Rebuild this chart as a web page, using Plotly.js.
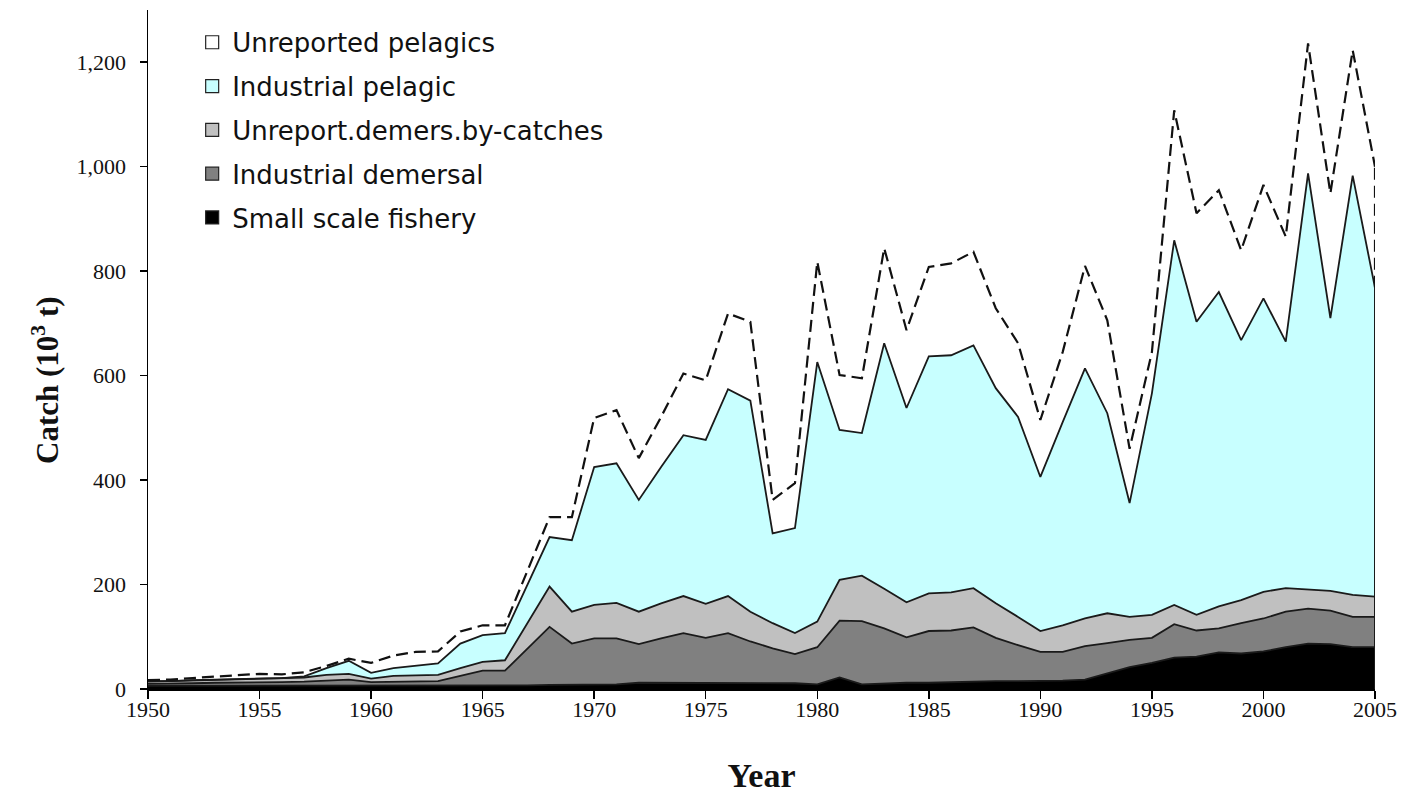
<!DOCTYPE html>
<html>
<head>
<meta charset="utf-8">
<script src="https://cdn.plot.ly/plotly-3.0.1.min.js"></script>
<style>html,body{margin:0;padding:0;background:#fff;}#chart{width:1406px;height:794px;}</style>
</head>
<body>
<div id="chart"></div>
<script>
var years = [1950,1951,1952,1953,1954,1955,1956,1957,1958,1959,1960,1961,1962,1963,1964,1965,1966,1967,1968,1969,
  1970,1971,1972,1973,1974,1975,1976,1977,1978,1979,1980,1981,1982,1983,1984,1985,1986,1987,1988,1989,
  1990,1991,1992,1993,1994,1995,1996,1997,1998,1999,2000,2001,2002,2003,2004,2005];

var smallScale = [6,6,6,6,7,7,7,7,7,7,7,7,7,7,7,7,7,7,8,8,
  8,9,12,12,12,12,12,12,12,11,9,22,9,11,12,12,13,15,15,15,
  15,16,18,30,42,50,60,62,70,68,72,80,87,86,80,80];

var industrialDemersal = [4,4,5,6,5,6,6,7,9,11,6,7,8,8,18,28,28,70,111,79,
  89,88,74,85,95,86,95,79,66,56,71,109,121,105,87,99,99,103,83,69,
  56,55,64,58,52,48,64,50,46,58,63,68,67,64,58,58];

var unreportDemersal = [4,5,5,5,6,7,7,8,11,11,7,11,11,12,15,17,20,49,77,61,
  64,68,62,67,71,65,71,57,48,40,49,78,87,76,67,72,73,75,66,54,
  40,51,53,57,44,44,37,30,42,44,51,45,37,38,42,39];

var industrialPelagic = [1,0,1,1,1,1,1,2,13,25,11,15,18,22,47,51,52,73,95,137,
  264,267,214,261,308,314,396,404,172,201,497,287,273,470,372,454,454,465,412,383,
  295,389,479,383,218,424,698,561,602,498,562,472,796,522,803,591];

var unreportedPelagics = [2,3,4,6,7,8,7,8,4,4,19,24,27,23,23,19,15,26,38,44,
  94,102,80,96,118,114,145,151,64,86,192,105,105,182,149,171,176,179,153,141,
  109,134,196,178,104,79,249,208,195,172,217,201,249,239,240,232];

var seriesNames = ["Small scale fishery","Industrial demersal","Unreport.demers.by-catches","Industrial pelagic","Unreported pelagics"];
var xTicks = [1950,1955,1960,1965,1970,1975,1980,1985,1990,1995,2000,2005];

var fills = ["#000000","#808080","#c0c0c0","#c8ffff","rgba(255,255,255,0)"];
var vals = [smallScale, industrialDemersal, unreportDemersal, industrialPelagic, unreportedPelagics];

var traces = [];
for (var i = 0; i < vals.length; i++) {
  var isDash = (i === 4);
  traces.push({
    type: "scatter", mode: "lines", x: years, y: vals[i], name: seriesNames[i],
    stackgroup: "one", fillcolor: fills[i],
    line: {color: isDash ? "#111" : "#1a1a1a", width: isDash ? 2.2 : 1.8, dash: isDash ? "12px,6px" : "solid", shape: "linear"},
    showlegend: false, hoverinfo: "skip"
  });
}
// right-edge closing lines of the stacked areas at the last year
var n = years.length - 1;
var topReported = smallScale[n] + industrialDemersal[n] + unreportDemersal[n] + industrialPelagic[n];
var topTotal = topReported + unreportedPelagics[n];
traces.push({type: "scatter", mode: "lines", x: [years[n], years[n]], y: [0, topReported],
  line: {color: "#1a1a1a", width: 2}, showlegend: false, hoverinfo: "skip"});
traces.push({type: "scatter", mode: "lines", x: [years[n], years[n]], y: [topReported, topTotal],
  line: {color: "#111", width: 2.2, dash: "12px,6px"}, showlegend: false, hoverinfo: "skip"});

// legend entries (marker swatches), top to bottom
var legOrder = [4,3,2,1,0];
for (var k = 0; k < legOrder.length; k++) {
  var j = legOrder[k];
  traces.push({
    type: "scatter", mode: "markers", x: [null], y: [null], name: seriesNames[j],
    legendgroup: "g" + k, legendrank: k + 1,
    marker: {symbol: j === 4 ? "square-open" : "square", size: 13,
      color: j === 4 ? "#222" : fills[j], line: {color: "#222", width: 1.2}},
    hoverinfo: "skip"
  });
}

var serif = "Liberation Serif, Times New Roman, serif";
var layout = {
  width: 1406, height: 794,
  margin: {l: 148, r: 31, t: 10, b: 105},
  paper_bgcolor: "#fff", plot_bgcolor: "#fff",
  showlegend: true,
  legend: {x: 0.036, y: 0.987, xanchor: "left", yanchor: "top", bgcolor: "rgba(0,0,0,0)",
    font: {family: "DejaVu Sans, Liberation Sans, sans-serif", size: 26, color: "#111"},
    traceorder: "grouped", tracegroupgap: 7, itemwidth: 30},
  xaxis: {
    range: [1950, 2005], tickvals: xTicks, ticks: "outside", ticklen: 8, tickwidth: 1.5, tickcolor: "#000",
    showline: true, linecolor: "#000", linewidth: 1.5, showgrid: false, zeroline: false,
    ticklabelstandoff: -8,
    tickfont: {family: serif, size: 22, color: "#111"},
    title: {text: "Year", font: {family: serif, size: 34, color: "#111", weight: "bold"}, standoff: 42}
  },
  yaxis: {
    range: [0, 1300], dtick: 200, tickformat: ",", ticks: "outside", ticklen: 7, tickwidth: 1.5, tickcolor: "#000",
    showline: true, linecolor: "#000", linewidth: 1.5, showgrid: false, zeroline: false,
    ticklabelstandoff: 9,
    tickfont: {family: serif, size: 22, color: "#111"}
  },
  annotations: [{
    text: "Catch (10<sup>3</sup> t)", xref: "paper", yref: "paper",
    x: (45 - 148) / 1227, y: (689 - 380) / 679, xanchor: "center", yanchor: "middle",
    textangle: -90, showarrow: false,
    font: {family: serif, size: 31, color: "#111", weight: "bold"}
  }]
};

Plotly.newPlot("chart", traces, layout, {staticPlot: true, displayModeBar: false});
</script>
</body>
</html>
